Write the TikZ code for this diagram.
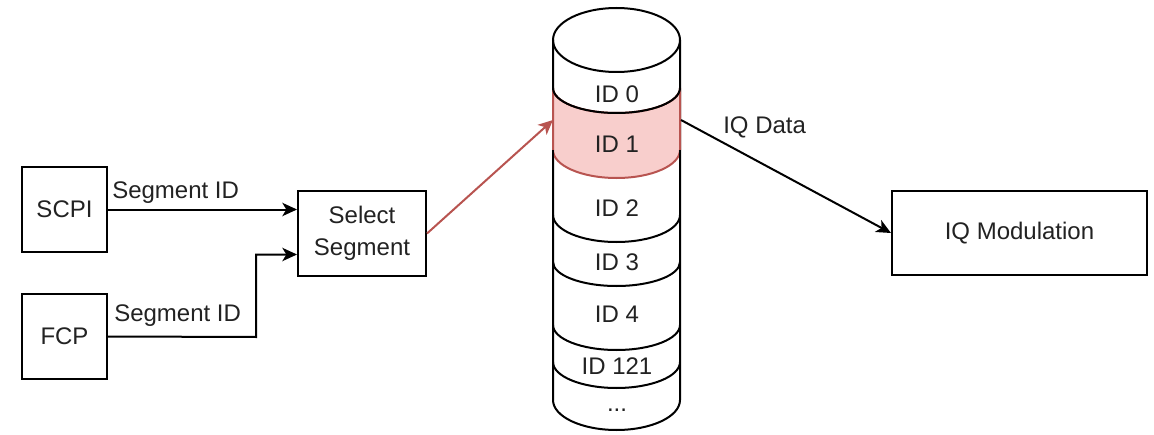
\documentclass[tikz,border=0pt]{standalone}
\usepackage{fontspec}
\setmainfont{Liberation Sans}
\usetikzlibrary{arrows.meta}
\definecolor{redline}{HTML}{B85450}
\definecolor{redfill}{HTML}{F8CECC}
\definecolor{txt}{HTML}{222222}
\tikzset{
  box/.style={draw=black, line width=1.5pt, fill=white, text=txt, font=\fontsize{18}{24}\selectfont, align=center, inner sep=0pt},
  lbl/.style={text=txt, font=\fontsize{18}{24}\selectfont, inner sep=0pt},
  conn/.style={line width=1.5pt, -{Stealth[length=11pt,width=10pt,inset=3pt]}},
  cyl/.style={line width=1.5pt, draw=black},
}
\begin{document}
\begin{tikzpicture}[x=0.75pt,y=0.75pt]
\useasboundingbox (0,0) rectangle (1154,-435);
% boxes
\node[box, minimum width=63.75pt, minimum height=63.75pt] (scpi) at (64.5,-209.5) {SCPI};
\node[box, minimum width=63.75pt, minimum height=63.75pt] (fcp) at (64.5,-336.5) {FCP};
\node[box, minimum width=96pt, minimum height=63.75pt] (sel) at (362,-233.5) {Select\\Segment};
\node[box, minimum width=191.25pt, minimum height=63pt] (iq) at (1019.5,-233) {IQ Modulation};
% cylinder
\draw[cyl, fill=white] (553,-40) -- (553,-400) arc[start angle=180,end angle=360,x radius=63.5,y radius=30] -- (680,-40);
\draw[line width=1.5pt, draw=redline, fill=redfill] (553,-88) -- (553,-150) arc[start angle=180,end angle=360,x radius=63.5,y radius=28] -- (680,-88) arc[start angle=0,end angle=-180,x radius=63.5,y radius=25];
\draw[cyl] (616.5,-40) ellipse[x radius=63.5, y radius=32];
\draw[cyl] (553,-88) arc[start angle=180,end angle=360,x radius=63.5,y radius=25];
\draw[cyl] (553,-215) arc[start angle=180,end angle=360,x radius=63.5,y radius=27];
\draw[cyl] (553,-262) arc[start angle=180,end angle=360,x radius=63.5,y radius=24];
\draw[cyl] (553,-325) arc[start angle=180,end angle=360,x radius=63.5,y radius=25];
\draw[cyl] (553,-362) arc[start angle=180,end angle=360,x radius=63.5,y radius=26];
\draw[cyl] (553,-40) -- (553,-88) (680,-40) -- (680,-88);
\draw[cyl] (553,-150) -- (553,-400) (680,-150) -- (680,-400);
\node[lbl] (id0) at (617,-94) {ID 0};
\node[lbl] (id1) at (617,-144) {ID 1};
\node[lbl] (id2) at (617,-208) {ID 2};
\node[lbl] (id3) at (617,-262) {ID 3};
\node[lbl] (id4) at (617,-314) {ID 4};
\node[lbl] (id121) at (617,-366) {ID 121};
\node[lbl] (dots) at (617,-410) {...};
\coordinate (cin) at (553,-120);
\coordinate (cout) at (681,-120);
\coordinate (bend) at (256,-337);
% connectors
\draw[conn] (scpi.east) -- (scpi.east -| sel.west);
\draw[conn] (fcp.east) -- (bend) |- ([yshift=-15.75pt]sel.west);
\draw[conn, draw=redline, fill=redline] (sel.east) -- (cin);
\draw[conn] (cout) -- (iq.west);
% labels
\node[lbl, anchor=west] (l1) at (112,-193) {Segment ID};
\node[lbl, anchor=west] (l2) at (114,-316) {Segment ID};
\node[lbl, anchor=west] (l3) at (723,-127) {IQ Data};
\end{tikzpicture}
\end{document}
